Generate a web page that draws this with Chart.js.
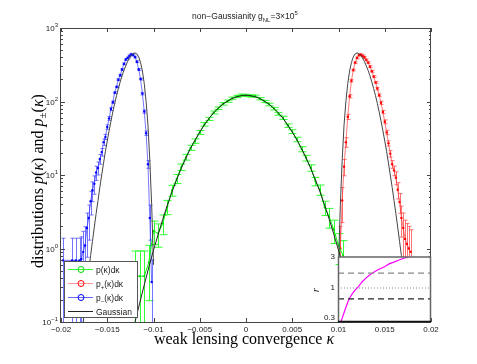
<!DOCTYPE html>
<html>
<head>
<meta charset="utf-8">
<script src="https://cdn.jsdelivr.net/npm/chart.js@4.4.1/dist/chart.umd.min.js"></script>
<style>
  body { margin: 0; background: #fff; }
  #wrap { position: relative; width: 477px; height: 364px; }
  canvas { position: absolute; left: 0; top: 0; }
</style>
</head>
<body>
<div id="wrap">
  <canvas id="main" width="477" height="364"></canvas>
  <canvas id="inset" width="477" height="364"></canvas>
</div>
<script>
// p(k)dk (vert)
const kappaP = [-0.0120,-0.0115,-0.0110,-0.0105,-0.0100,-0.0095,-0.0090,-0.0085,-0.0080,-0.0075,-0.0070,-0.0065,-0.0060,-0.0055,-0.0050,-0.0045,-0.0040,-0.0035,-0.0030,-0.0025,-0.0020,-0.0015,-0.0010,-0.0005,
  0,0.0005,0.0010,0.0015,0.0020,0.0025,0.0030,0.0035,0.0040,0.0045,0.0050,0.0055,0.0060,0.0065,0.0070,0.0075,0.0080,0.0085,0.0090,0.0095,0.0100,0.0105];
const pData = [0.42,0.42,0.42,0.65,1.75,1.6,2.2,3.7,6.2,8.9,12.8,17.5,23.5,29,38,49,58,71,81,93,101,111,117,122,
  121,119,118,109,100,91,80,68,60,47,39,30.5,22.5,17,12.5,8.2,6.3,3.6,2.7,1.8,1.1,0.8];
const pErr = [1.2,1.2,1.2,0.7,0.35,0.35,0.3,0.22,0.17,0.14,0.1,0.09,0.08,0.07,0.06,0.055,0.05,0.045,0.04,0.04,0.035,0.035,0.035,0.035,
  0.035,0.035,0.035,0.035,0.035,0.04,0.04,0.045,0.05,0.055,0.06,0.07,0.08,0.09,0.1,0.13,0.16,0.22,0.3,0.35,0.45,0.6];

// p_-(k)dk (bleu)
const kappaMinus = [-0.0198,-0.0188,-0.0184,-0.0180,-0.0178,-0.0176,-0.0174,-0.0172,-0.0170,-0.0168,-0.0166,-0.0164,-0.0162,-0.0160,-0.0158,-0.0156,-0.0154,-0.0152,-0.0150,-0.0148,-0.0146,-0.0144,
  -0.0142,-0.0140,-0.0138,-0.0136,-0.0134,-0.0132,-0.0130,-0.0128,-0.0126,-0.0124,-0.0122,-0.0120,-0.0118,-0.0116,-0.0114,-0.0112,-0.0110,-0.0108,-0.0106,-0.0104,-0.0102];
const pMinus = [0.69,0.69,0.69,0.69,0.72,0.9,1.1,1.9,2.6,4.4,6.2,7.6,10.8,12.5,16.5,20.5,28,33,45,59,79,98,
  132,158,198,228,272,325,372,392,418,438,428,402,348,272,202,128,73,37,14,2.6,0.35];
const errMinus = [1,1,1,1,1,0.9,0.8,0.6,0.5,0.35,0.3,0.28,0.22,0.2,0.15,0.12,0.1,0.08,0.07,0.06,0.05,0.04,
  0.03,0.03,0.03,0.03,0.03,0.03,0.03,0.03,0.03,0.03,0.03,0.03,0.03,0.03,0.03,0.04,0.05,0.07,0.12,0.5,1];

// p_+(k)dk (rouge)
const kappaPlus = [0.0102,0.0104,0.0106,0.0108,0.0110,0.0112,0.0114,0.0116,0.0118,0.0120,0.0122,0.0124,0.0126,0.0128,0.0130,0.0132,0.0134,0.0136,0.0138,0.0140,
  0.0142,0.0144,0.0146,0.0148,0.0150,0.0152,0.0154,0.0156,0.0158,0.0160,0.0162,0.0164,0.0166,0.0168,0.0170,0.0172,0.0174,0.0176,0.0178];
const pPlus = [1.0,4.5,13,28,62,118,192,268,338,392,428,432,418,398,368,338,298,258,218,182,
  150,122,96,72,53,38,27,19.5,14,11.5,9.2,6.3,4.3,2.6,1.9,1.35,1.15,1.0,0.9];
const errPlus = [1,0.5,0.25,0.15,0.08,0.05,0.04,0.03,0.03,0.03,0.03,0.03,0.03,0.03,0.03,0.03,0.03,0.03,0.03,0.03,
  0.04,0.04,0.05,0.05,0.06,0.07,0.08,0.1,0.12,0.15,0.2,0.25,0.3,0.45,0.6,0.8,0.9,1,1];

// courbes gaussiennes
const gaussK = [-0.0125,-0.0120,-0.0115,-0.0110,-0.0105,-0.0100,-0.0095,-0.0090,-0.0085,-0.0080,-0.0075,-0.0070,-0.0065,-0.0060,-0.0055,-0.0050,-0.0045,-0.0040,-0.0035,-0.0030,-0.0025,-0.0020,-0.0015,-0.0010,-0.0005,
  0,0.0005,0.0010,0.0015,0.0020,0.0025,0.0030,0.0035,0.0040,0.0045,0.0050,0.0055,0.0060,0.0065,0.0070,0.0075,0.0080,0.0085,0.0090,0.0095,0.0100,0.0105,0.0110,0.0115,0.0120,0.0125];
const gaussP = [0.07,0.1,0.18,0.32,0.56,0.95,1.55,2.5,3.9,5.9,8.6,12.3,17,23,30,38.5,48,59,70,81,92,101,110,116,120,
  122,120,116,110,101,92,81,70,59,48,38.5,30,23,17,12.3,8.6,5.9,3.9,2.5,1.55,0.95,0.56,0.32,0.18,0.1,0.07];
const gaussMinusK = [-0.0176,-0.0174,-0.0172,-0.0170,-0.0168,-0.0166,-0.0164,-0.0162,-0.0160,-0.0158,-0.0156,-0.0154,-0.0152,-0.0150,-0.0148,-0.0146,-0.0144,-0.0142,-0.0140,-0.0138,
  -0.0136,-0.0134,-0.0132,-0.0130,-0.0128,-0.0126,-0.0124,-0.0122,-0.0120,-0.0118,-0.0116,-0.0114,-0.0112,-0.0110,-0.0108,-0.0106,-0.0104,-0.0102,-0.0100];
const gaussMinus = [0.1,0.18,0.3,0.5,0.8,1.25,1.95,3.0,4.5,6.8,10,14.5,21,29,40,54,72,94,120,150,
  185,225,265,305,350,390,425,450,458,445,405,340,260,175,100,48,16,4,0.6];
const gaussPlusK = [0.0100,0.0102,0.0104,0.0106,0.0108,0.0110,0.0112,0.0114,0.0116,0.0118,0.0120,0.0122,0.0124,0.0126,0.0128,0.0130,0.0132,0.0134,0.0136,0.0138,
  0.0140,0.0142,0.0144,0.0146,0.0148,0.0150,0.0152,0.0154,0.0156,0.0158,0.0160,0.0162,0.0164,0.0166,0.0168,0.0170,0.0172,0.0174,0.0176];
const gaussPlus = [0.6,4,16,48,100,175,260,340,405,445,458,450,425,390,350,305,265,225,185,150,
  120,94,72,54,40,29,21,14.5,10,6.8,4.5,3.0,1.95,1.25,0.8,0.5,0.3,0.18,0.1];

// encart r
const ratioK = [0.0103,0.0105,0.0107,0.0109,0.0111,0.0113,0.0116,0.0119,0.0122,0.0126,0.0130,0.0134,0.0138,0.0142,0.0146,0.0150,0.0155,0.0160,0.0165,0.0170,0.0176];
const ratioR = [0.3,0.36,0.44,0.53,0.63,0.72,0.84,0.95,1.05,1.25,1.42,1.58,1.74,1.88,2.0,2.13,2.35,2.5,2.68,2.85,3.0];
const ratioLines = [1.7, 1, 0.68];
const ratioTicks = [3, 1, 0.3];

// axes
const xTicks = [-0.02,-0.015,-0.01,-0.005,0,0.005,0.01,0.015,0.02];
const xTickLabels = ['\u22120.02','\u22120.015','\u22120.01','\u22120.005','0','0.005','0.01','0.015','0.02'];
const yDecades = [0.1,1,10,100,1000];
const yExponents = ['\u22121','0','1','2','3'];

const pts = (xs, ys) => xs.map((x, i) => ({x: x, y: ys[i]}));

const SANS = 'Liberation Sans, Arial, sans-serif';
const SERIF = 'Liberation Serif, Times New Roman, serif';

function richText(ctx, parts, x, y, align) {
    let w = 0;
    parts.forEach(p => { ctx.font = p[1]; w += ctx.measureText(p[0]).width; });
    let cx = align === 'center' ? x - w / 2 : (align === 'right' ? x - w : x);
    ctx.textAlign = 'left';
    parts.forEach(p => {
        ctx.font = p[1];
        ctx.fillText(p[0], cx, y + (p[2] || 0));
        cx += ctx.measureText(p[0]).width;
    });
}

// barres d'erreur
const barresErreur = {
    id: 'barresErreur',
    beforeDatasetsDraw(chart) {
        const {ctx, chartArea: a, scales: {x, y}} = chart;
        ctx.save();
        ctx.beginPath();
        ctx.rect(a.left, a.top, a.right - a.left, a.bottom - a.top);
        ctx.clip();
        chart.data.datasets.forEach(ds => {
            if (!ds.errors) return;
            ctx.strokeStyle = ds.errColor;
            ctx.lineWidth = 1;
            ds.data.forEach((p, i) => {
                const e = ds.errors[i];
                const px = Math.round(x.getPixelForValue(p.x)) + 0.5;
                const hi = y.getPixelForValue(p.y * (1 + e));
                const lo = e < 1 ? y.getPixelForValue(p.y * (1 - e)) : a.bottom + 10;
                ctx.beginPath();
                ctx.moveTo(px, hi); ctx.lineTo(px, lo);
                ctx.moveTo(px - ds.cap, hi); ctx.lineTo(px + ds.cap, hi);
                ctx.moveTo(px - ds.cap, lo); ctx.lineTo(px + ds.cap, lo);
                ctx.stroke();
            });
        });
        ctx.restore();
    }
};

// cadre, graduations, textes
const cadre = {
    id: 'cadre',
    afterDraw(chart) {
        const {ctx, chartArea: a, scales: {x, y}} = chart;
        ctx.save();
        ctx.strokeStyle = '#444';
        ctx.lineWidth = 1;
        ctx.strokeRect(a.left - 0.5, a.top + 0.5, a.right - a.left, a.bottom - a.top);
        ctx.beginPath();
        xTicks.forEach(v => {
            const px = Math.round(x.getPixelForValue(v)) + 0.5;
            ctx.moveTo(px, a.bottom); ctx.lineTo(px, a.bottom - 4);
            ctx.moveTo(px, a.top); ctx.lineTo(px, a.top + 4);
        });
        yDecades.forEach((d, k) => {
            for (let m = 1; m <= 9; m++) {
                if (m > 1 && k === yDecades.length - 1) break;
                const py = Math.round(y.getPixelForValue(d * m)) + 0.5;
                const len = m === 1 ? 4 : 2;
                ctx.moveTo(a.left, py); ctx.lineTo(a.left + len, py);
                ctx.moveTo(a.right, py); ctx.lineTo(a.right - len, py);
            }
        });
        ctx.stroke();

        ctx.fillStyle = '#222';
        ctx.textBaseline = 'top';
        ctx.textAlign = 'center';
        ctx.font = '8px ' + SANS;
        xTicks.forEach((v, i) => ctx.fillText(xTickLabels[i], x.getPixelForValue(v), a.bottom + 4));

        ctx.textBaseline = 'alphabetic';
        yDecades.forEach((d, i) => {
            const py = y.getPixelForValue(d);
            richText(ctx, [['10', '8px ' + SANS, 0], [yExponents[i], '6px ' + SANS, -4]], a.left - 3, py + 3, 'right');
        });

        // titre
        richText(ctx, [
            ['non\u2212Gaussianity g', '8.5px ' + SANS, 0],
            ['NL', '6px ' + SANS, 2.5],
            ['=3\u00d710', '8.5px ' + SANS, 0],
            ['5', '6px ' + SANS, -4]
        ], 245, 19, 'center');

        // titre axe x
        ctx.fillStyle = '#000';
        richText(ctx, [
            ['weak lensing convergence ', '16px ' + SERIF, 0],
            ['\u03ba', 'italic 16px ' + SERIF, 0]
        ], 244, 344, 'center');

        // titre axe y
        ctx.save();
        ctx.translate(43, 181);
        ctx.rotate(-Math.PI / 2);
        richText(ctx, [
            ['distributions ', '16px ' + SERIF, 0],
            ['p', 'italic 16px ' + SERIF, 0],
            ['(', '16px ' + SERIF, 0],
            ['\u03ba', 'italic 16px ' + SERIF, 0],
            [') and ', '16px ' + SERIF, 0],
            ['p', 'italic 16px ' + SERIF, 0],
            ['\u00b1', '11px ' + SERIF, 3],
            ['(', '16px ' + SERIF, 0],
            ['\u03ba', 'italic 16px ' + SERIF, 0],
            [')', '16px ' + SERIF, 0]
        ], 0, 0, 'center');
        ctx.restore();

        // legende
        ctx.fillStyle = '#fff';
        ctx.fillRect(64.5, 261.5, 73, 56);
        ctx.strokeStyle = '#555';
        ctx.strokeRect(64.5, 261.5, 73, 56);
        const entrees = [
            {line: '#33ff33', mark: '#00dd00', y: 269.5, txt: [['p(\u03ba)d\u03ba', '8.5px ' + SANS, 0]]},
            {line: '#ff9999', mark: '#ff0000', y: 283.5, txt: [['p', '8.5px ' + SANS, 0], ['+', '6px ' + SANS, 2.5], ['(\u03ba)d\u03ba', '8.5px ' + SANS, 0]]},
            {line: '#6666ff', mark: '#0000ff', y: 297.5, txt: [['p', '8.5px ' + SANS, 0], ['\u2212', '6px ' + SANS, 2.5], ['(\u03ba)d\u03ba', '8.5px ' + SANS, 0]]},
            {line: '#222', mark: null, y: 311.5, txt: [['Gaussian', '8.5px ' + SANS, 0]]}
        ];
        entrees.forEach(e => {
            ctx.strokeStyle = e.line;
            ctx.lineWidth = 1;
            ctx.beginPath();
            ctx.moveTo(68, e.y); ctx.lineTo(93, e.y);
            ctx.stroke();
            if (e.mark) {
                ctx.strokeStyle = e.mark;
                ctx.beginPath();
                ctx.arc(81, e.y, 3, 0, Math.PI * 2);
                ctx.stroke();
            }
            ctx.fillStyle = '#222';
            richText(ctx, e.txt, 96, e.y + 3, 'left');
        });
        ctx.restore();
    }
};

const mainChart = new Chart(document.getElementById('main'), {
    type: 'scatter',
    data: {
        datasets: [
            {
                label: 'Gaussian p', data: pts(gaussK, gaussP), showLine: true, order: 0,
                borderColor: '#222', borderWidth: 1, pointRadius: 0
            },
            {
                label: 'Gaussian p-', data: pts(gaussMinusK, gaussMinus), showLine: true, order: 0,
                borderColor: '#444', borderWidth: 1, pointRadius: 0
            },
            {
                label: 'Gaussian p+', data: pts(gaussPlusK, gaussPlus), showLine: true, order: 0,
                borderColor: '#444', borderWidth: 1, pointRadius: 0
            },
            {
                label: 'p(k)dk', data: pts(kappaP, pData), showLine: true, order: 1,
                borderColor: '#00ff00', borderWidth: 1, pointRadius: 1, pointBackgroundColor: '#00cc00', pointBorderWidth: 0,
                errors: pErr, errColor: '#33ff33', cap: 4
            },
            {
                label: 'p-(k)dk', data: pts(kappaMinus, pMinus), showLine: true, order: 1,
                borderColor: 'rgba(60,60,255,0.7)', borderWidth: 1, pointRadius: 1.2, pointBackgroundColor: '#0000ff', pointBorderWidth: 0,
                errors: errMinus, errColor: 'rgba(70,70,255,0.75)', cap: 2
            },
            {
                label: 'p+(k)dk', data: pts(kappaPlus, pPlus), showLine: true, order: 1,
                borderColor: 'rgba(255,60,60,0.7)', borderWidth: 1, pointRadius: 1.2, pointBackgroundColor: '#ff0000', pointBorderWidth: 0,
                errors: errPlus, errColor: 'rgba(255,70,70,0.75)', cap: 2
            }
        ]
    },
    options: {
        responsive: false,
        animation: false,
        layout: {padding: {left: 61, top: 28, right: 46, bottom: 42}},
        plugins: {legend: {display: false}, tooltip: {enabled: false}},
        scales: {
            x: {type: 'linear', display: false, min: -0.02, max: 0.02},
            y: {type: 'logarithmic', display: false, min: 0.1, max: 1000}
        }
    },
    plugins: [barresErreur, cadre]
});

// encart
const cadreEncart = {
    id: 'cadreEncart',
    beforeDatasetsDraw(chart) {
        const {ctx, chartArea: a} = chart;
        ctx.save();
        ctx.fillStyle = '#fff';
        ctx.fillRect(a.left, a.top, a.right - a.left, a.bottom - a.top);
        ctx.restore();
    },
    afterDraw(chart) {
        const {ctx, chartArea: a, scales: {y}} = chart;
        ctx.save();
        ctx.strokeStyle = '#666';
        ctx.lineWidth = 1.5;
        ctx.beginPath();
        ctx.moveTo(a.left + 0.5, a.bottom); ctx.lineTo(a.left + 0.5, a.top);
        ctx.lineTo(a.right - 0.5, a.top); ctx.lineTo(a.right - 0.5, a.bottom);
        ctx.stroke();
        ctx.strokeStyle = '#111';
        ctx.beginPath();
        ctx.moveTo(a.left, a.bottom - 0.5); ctx.lineTo(a.right, a.bottom - 0.5);
        ctx.stroke();
        ctx.fillStyle = '#222';
        ctx.font = '8px ' + SANS;
        ctx.textAlign = 'right';
        ctx.textBaseline = 'middle';
        ratioTicks.forEach(v => {
            let py = y.getPixelForValue(v);
            if (v === ratioTicks[ratioTicks.length - 1]) py -= 4;
            ctx.fillText(String(v), a.left - 3, py);
        });
        ctx.save();
        ctx.translate(319, 290);
        ctx.rotate(-Math.PI / 2);
        ctx.textAlign = 'center';
        ctx.textBaseline = 'alphabetic';
        ctx.font = 'italic 11px ' + SERIF;
        ctx.fillText('r', 0, 0);
        ctx.restore();
        ctx.restore();
    }
};

const lineStyles = [
    {color: '#888', dash: [6, 4], width: 1.2},
    {color: '#888', dash: [1, 2], width: 1},
    {color: '#222', dash: [6, 4], width: 1.2}
];

const insetChart = new Chart(document.getElementById('inset'), {
    type: 'scatter',
    data: {
        datasets: ratioLines.map((r, i) => ({
            label: 'r=' + r,
            data: [{x: 0.01, y: r}, {x: 0.02, y: r}],
            showLine: true, pointRadius: 0,
            borderColor: lineStyles[i].color, borderDash: lineStyles[i].dash, borderWidth: lineStyles[i].width
        })).concat([{
            label: 'r', data: pts(ratioK, ratioR), showLine: true, pointRadius: 0,
            borderColor: '#ff00ff', borderWidth: 1.2
        }])
    },
    options: {
        responsive: false,
        animation: false,
        layout: {padding: {left: 338, top: 257, right: 46, bottom: 42}},
        plugins: {legend: {display: false}, tooltip: {enabled: false}},
        scales: {
            x: {type: 'linear', display: false, min: 0.01, max: 0.02},
            y: {type: 'logarithmic', display: false, min: 0.3, max: 3}
        }
    },
    plugins: [cadreEncart]
});
</script>
</body>
</html>
